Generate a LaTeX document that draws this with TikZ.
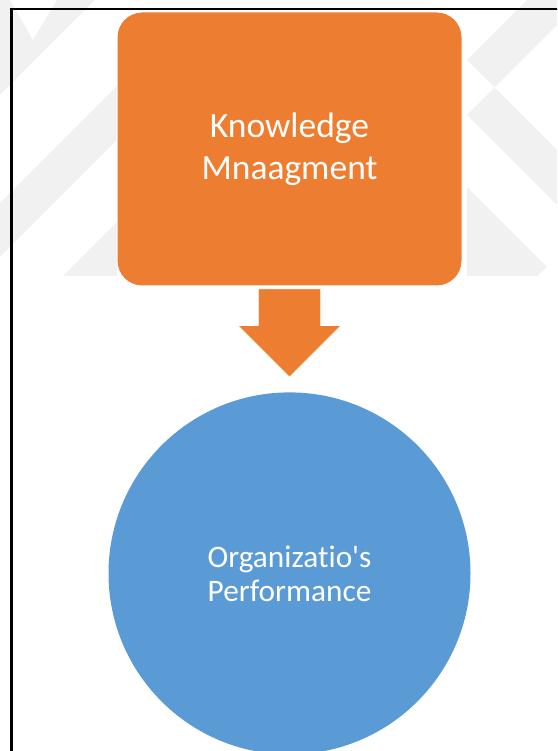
\documentclass[tikz,border=0pt]{standalone}
\usepackage{fontspec}
\setmainfont{Carlito}[Ligatures={NoCommon}]
\usetikzlibrary{positioning,calc}

\definecolor{kmorange}{HTML}{ED7D31}
\definecolor{opblue}{HTML}{5B9BD5}
\definecolor{wmgray}{HTML}{F1F1F1}

\tikzset{
    kmbox/.style={rectangle, rounded corners=25pt, fill=kmorange, draw=white,
        line width=1pt, minimum width=345pt, minimum height=274pt,
        text=white, align=center, font=\fontsize{35.5}{42}\selectfont},
    opcircle/.style={circle, fill=opblue, minimum size=362pt, inner sep=0pt,
        text=white, align=center, font=\fontsize{31.3}{34}\selectfont},
    blockarrow/.style={fill=kmorange, draw=white, line width=0.8pt}
}

\begin{document}
\begin{tikzpicture}[x=1pt,y=1pt]

    % Fix the page to the size of the reference and cut at its edges
    \useasboundingbox (0,0) rectangle (557,751);
    \clip (0,0) rectangle (557,751);

    % Faint watermark behind the diagram
    \fill[wmgray] (0,751) -- (10,751) -- (33,711) -- (57,751) -- (95,751) -- (0,656) -- cycle;
    \fill[wmgray] (117,665) -- (117,611) -- (0,494) -- (0,548) -- cycle;
    \fill[wmgray] (63,475) -- (117,475) -- (117,529) -- cycle;
    \fill[wmgray] (527,751) -- (467,691) -- (557,601) -- (557,546) -- (467,636) -- (557,726) -- (557,751) -- cycle;
    \fill[wmgray] (467,564) -- (547,484) -- (537,475) -- (467,475) -- cycle;

    % Page frame, running off the right and bottom edges
    \draw[line width=2.3pt] (11.5,-5) -- (11.5,741.7) -- (570,741.7);

    % The two blocks
    \node[kmbox] (km) at (289.5,602) {Knowledge\\Mnaagment};
    \node[opcircle, below=105.7pt of km] (op) {Organizatio\textquotesingle s\\Performance};

    % Block arrow from the box down to the circle
    \coordinate (shafttop) at ($(km.south)+(0,-2.3)$);
    \coordinate (arrowtip) at ($(op.north)+(0,15)$);
    \path[blockarrow] ($(shafttop)+(-31.2,0)$) -- ($(shafttop)+(31.2,0)$)
        -- ($(shafttop)+(31.2,-36.7)$) -- ($(shafttop)+(51.6,-36.7)$)
        -- (arrowtip)
        -- ($(shafttop)+(-51.6,-36.7)$) -- ($(shafttop)+(-31.2,-36.7)$) -- cycle;

\end{tikzpicture}
\end{document}
